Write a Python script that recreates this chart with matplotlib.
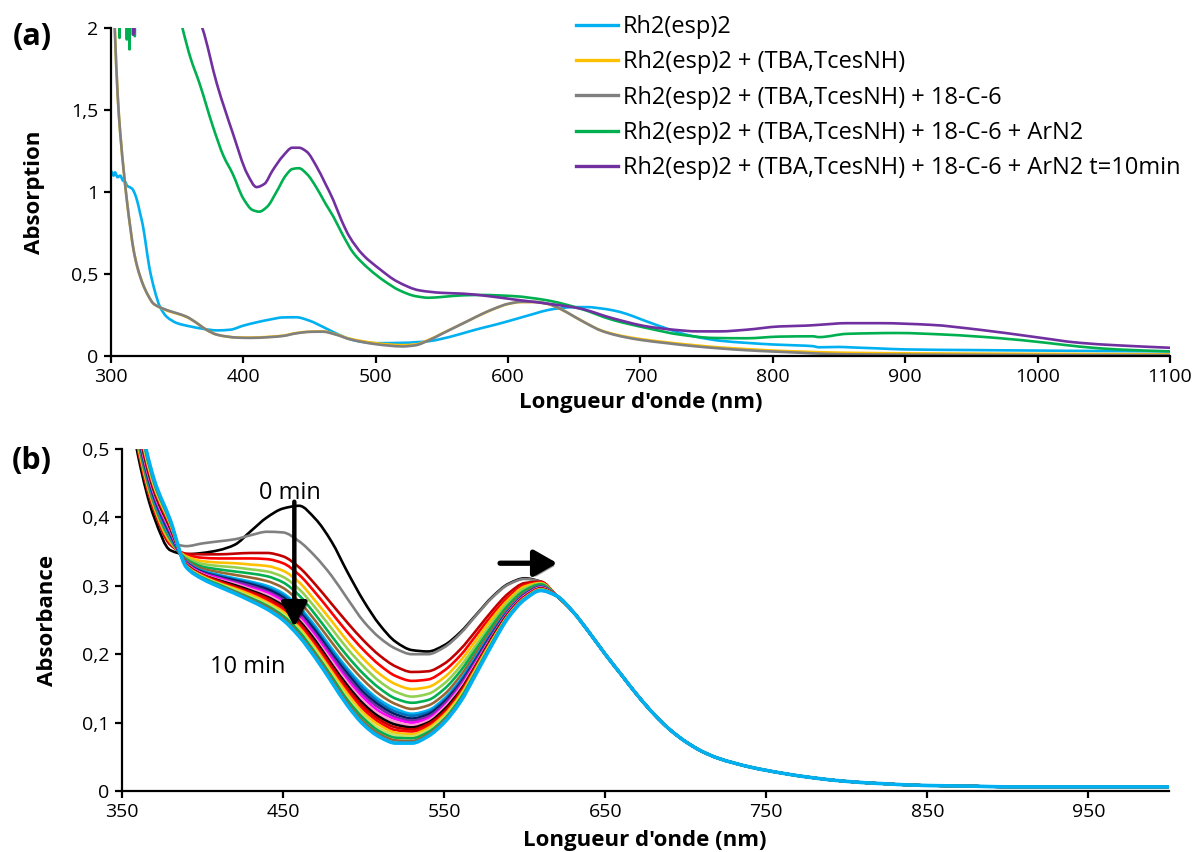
import numpy as np
import matplotlib
matplotlib.use('Agg')
import matplotlib.pyplot as plt
import matplotlib.patheffects as pe
from matplotlib.path import Path
from matplotlib.patches import PathPatch
from matplotlib.lines import Line2D

plt.rcParams['font.family'] = ['Open Sans', 'DejaVu Sans']

# ---------------- panel (a) data ----------------
a_labels = ['Rh2(esp)2',
            'Rh2(esp)2 + (TBA,TcesNH)',
            'Rh2(esp)2 + (TBA,TcesNH) + 18-C-6',
            'Rh2(esp)2 + (TBA,TcesNH) + 18-C-6 + ArN2',
            'Rh2(esp)2 + (TBA,TcesNH) + 18-C-6 + ArN2 t=10min']
a_colors = ['#00B0F0', '#FFC000', '#808080', '#00B050', '#7030A0']

wl_blue = [300, 302, 303, 305, 307, 309, 311, 312, 314, 316, 318, 320, 322, 324, 326, 329, 333, 337, 342, 350,
           360, 370, 380, 390, 400, 410, 420, 430, 440, 450, 460, 470, 480, 490, 500, 520, 540, 550, 560, 570,
           580, 590, 600, 610, 620, 630, 640, 650, 660, 670, 680, 690, 700, 710, 720, 730, 740, 750, 760, 780,
           800, 820, 830, 835, 850, 860, 880, 900, 950, 1000, 1050, 1100]
abs_blue = [1.13, 1.10, 1.12, 1.09, 1.10, 1.07, 1.06, 1.04, 1.03, 1.02, 0.99, 0.94, 0.87, 0.80, 0.70, 0.54, 0.40, 0.30, 0.24, 0.20,
            0.18, 0.165, 0.156, 0.16, 0.185, 0.205, 0.222, 0.235, 0.236, 0.215, 0.178, 0.138, 0.104, 0.086, 0.078, 0.08, 0.09, 0.105, 0.125, 0.148,
            0.17, 0.19, 0.212, 0.235, 0.258, 0.28, 0.292, 0.298, 0.298, 0.29, 0.277, 0.255, 0.225, 0.195, 0.167, 0.14, 0.12, 0.105, 0.093, 0.08,
            0.07, 0.064, 0.06, 0.053, 0.055, 0.052, 0.046, 0.04, 0.036, 0.033, 0.03, 0.028]

wl_gray = [300, 303, 305, 307, 310, 312, 315, 317, 320, 324, 328, 332, 336, 339, 344, 350, 357, 365, 372, 380,
           388, 395, 405, 420, 430, 440, 450, 460, 470, 480, 490, 500, 510, 520, 530, 540, 550, 560, 570, 580,
           590, 600, 610, 620, 630, 640, 650, 660, 670, 680, 690, 700, 720, 740, 760, 780, 800, 820, 840, 860,
           900, 1000, 1100]
abs_yellow = [2.6, 1.97, 1.6, 1.36, 1.1, 0.95, 0.76, 0.65, 0.54, 0.44, 0.37, 0.32, 0.30, 0.288, 0.272, 0.258, 0.238, 0.2, 0.16, 0.13,
              0.118, 0.113, 0.112, 0.117, 0.124, 0.14, 0.148, 0.15, 0.132, 0.106, 0.09, 0.078, 0.07, 0.066, 0.07, 0.098, 0.137, 0.176, 0.215, 0.254,
              0.289, 0.317, 0.329, 0.329, 0.317, 0.285, 0.24, 0.196, 0.157, 0.133, 0.116, 0.103, 0.083, 0.066, 0.052, 0.042, 0.033, 0.027, 0.022, 0.019,
              0.016, 0.013, 0.01]
abs_gray = [2.6, 1.97, 1.6, 1.36, 1.1, 0.95, 0.76, 0.65, 0.54, 0.44, 0.37, 0.32, 0.30, 0.29, 0.275, 0.26, 0.24, 0.2, 0.16, 0.13,
            0.118, 0.112, 0.11, 0.115, 0.122, 0.138, 0.147, 0.148, 0.13, 0.103, 0.085, 0.072, 0.063, 0.058, 0.065, 0.095, 0.135, 0.175, 0.215, 0.255,
            0.29, 0.318, 0.33, 0.33, 0.318, 0.285, 0.24, 0.195, 0.155, 0.13, 0.112, 0.098, 0.078, 0.06, 0.046, 0.035, 0.027, 0.02, 0.013, 0.01,
            0.008, 0.006, 0.005]

wl_green = [300, 306, 306.5, 307, 307.5, 311.5, 312, 312.5, 313.5, 314, 314.5, 317.5, 318, 318.5, 340, 354, 360, 367, 377, 385,
            392, 400, 407, 412, 418, 425, 432, 437, 442, 448, 455, 462, 468, 475, 483, 495, 506, 518, 530, 540,
            550, 566, 580, 604, 629, 654, 679, 705, 730, 755, 780, 805, 830, 835, 856, 894, 931, 969, 1007, 1032,
            1060, 1100]
abs_green = [2.5, 2.5, 1.94, 2.5, 2.5, 2.5, 1.93, 2.5, 2.5, 1.87, 2.5, 2.5, 1.95, 2.5, 2.5, 2.0, 1.82, 1.66, 1.40, 1.22,
             1.11, 0.96, 0.89, 0.88, 0.91, 1.0, 1.1, 1.14, 1.145, 1.11, 1.03, 0.93, 0.85, 0.74, 0.63, 0.53, 0.46, 0.40, 0.365, 0.355,
             0.36, 0.37, 0.372, 0.365, 0.34, 0.29, 0.22, 0.17, 0.13, 0.11, 0.108, 0.118, 0.12, 0.115, 0.135, 0.14, 0.13, 0.11, 0.08, 0.057,
             0.04, 0.028]

wl_purple = [300, 316, 316.5, 317.5, 318, 340, 369, 380, 392, 403, 410, 416, 422, 430, 437, 442, 448, 455, 462, 468,
             474, 480, 490, 503, 516, 533, 550, 566, 585, 604, 629, 654, 679, 705, 725, 743, 760, 780, 805, 825,
             835, 856, 881, 919, 956, 994, 1032, 1060, 1100]
abs_purple = [2.5, 2.5, 1.96, 1.97, 2.5, 2.5, 2.0, 1.66, 1.36, 1.11, 1.03, 1.05, 1.13, 1.22, 1.27, 1.27, 1.245, 1.16, 1.05, 0.95,
              0.83, 0.73, 0.62, 0.53, 0.455, 0.40, 0.385, 0.38, 0.365, 0.345, 0.32, 0.29, 0.23, 0.18, 0.16, 0.15, 0.15, 0.16, 0.18, 0.185,
              0.19, 0.20, 0.20, 0.19, 0.16, 0.12, 0.08, 0.065, 0.05]

# ---------------- panel (b) data ----------------
wl_b = [355, 360, 370, 380, 390, 400, 410, 420, 430, 440, 450, 460, 470, 480, 490, 500,
        510, 520, 530, 540, 550, 560, 570, 580, 590, 600, 610]
wl_b_tail = [620, 630, 640, 650, 660, 670, 680, 690, 700, 710, 720, 740, 760, 780, 800, 820, 850, 880, 900, 950, 1000]
abs_b_tail = [0.285, 0.262, 0.232, 0.2, 0.17, 0.14, 0.113, 0.09, 0.072, 0.058, 0.048, 0.035, 0.026, 0.019, 0.014, 0.011,
              0.008, 0.007, 0.006, 0.006, 0.006]

b_colors = ['#000000', '#808080', '#C00000', '#FF0000', '#FFC000', '#92D050', '#00B050', '#996633',
            '#00B0F0', '#0070C0', '#002060', '#7030A0', '#FF00FF', '#FF99CC', '#000000', '#C00000',
            '#FF0000', '#FFC000', '#C9E265', '#00B050', '#996633', '#00B0F0']

b_spectra = [
    [0.56, 0.49, 0.40, 0.352, 0.346, 0.348, 0.352, 0.36, 0.38, 0.40, 0.413, 0.417, 0.398, 0.365, 0.32, 0.278, 0.243, 0.218, 0.206, 0.204, 0.213, 0.232, 0.258, 0.284, 0.303, 0.311, 0.306],
    [0.57, 0.50, 0.41, 0.365, 0.358, 0.362, 0.365, 0.368, 0.374, 0.379, 0.378, 0.365, 0.343, 0.315, 0.281, 0.248, 0.224, 0.208, 0.200, 0.200, 0.210, 0.230, 0.257, 0.283, 0.302, 0.310, 0.306],
    [0.57, 0.50, 0.41, 0.36, 0.347, 0.346, 0.346, 0.347, 0.348, 0.348, 0.343, 0.327, 0.302, 0.274, 0.246, 0.220, 0.198, 0.182, 0.174, 0.175, 0.186, 0.207, 0.235, 0.264, 0.289, 0.304, 0.306],
    [0.57, 0.50, 0.412, 0.362, 0.345, 0.341, 0.340, 0.340, 0.340, 0.339, 0.333, 0.316, 0.290, 0.261, 0.232, 0.206, 0.184, 0.168, 0.161, 0.163, 0.176, 0.198, 0.228, 0.258, 0.284, 0.301, 0.305],
    [0.58, 0.505, 0.415, 0.364, 0.343, 0.336, 0.334, 0.333, 0.331, 0.329, 0.322, 0.305, 0.278, 0.249, 0.219, 0.193, 0.171, 0.156, 0.149, 0.152, 0.166, 0.190, 0.221, 0.253, 0.280, 0.299, 0.304],
    [0.58, 0.51, 0.418, 0.366, 0.341, 0.332, 0.329, 0.327, 0.324, 0.321, 0.313, 0.295, 0.268, 0.238, 0.208, 0.182, 0.160, 0.145, 0.138, 0.142, 0.157, 0.182, 0.214, 0.247, 0.276, 0.296, 0.303],
    [0.585, 0.512, 0.42, 0.368, 0.339, 0.328, 0.324, 0.321, 0.318, 0.314, 0.305, 0.286, 0.258, 0.227, 0.197, 0.171, 0.150, 0.135, 0.129, 0.133, 0.149, 0.175, 0.208, 0.242, 0.272, 0.293, 0.302],
    [0.59, 0.515, 0.422, 0.37, 0.337, 0.325, 0.320, 0.316, 0.312, 0.307, 0.297, 0.277, 0.249, 0.218, 0.188, 0.162, 0.141, 0.127, 0.120, 0.125, 0.141, 0.168, 0.202, 0.237, 0.268, 0.290, 0.300],
    [0.59, 0.518, 0.425, 0.372, 0.335, 0.322, 0.316, 0.311, 0.306, 0.300, 0.289, 0.269, 0.241, 0.209, 0.179, 0.153, 0.133, 0.120, 0.113, 0.118, 0.135, 0.162, 0.197, 0.233, 0.265, 0.288, 0.299],
    [0.595, 0.52, 0.427, 0.374, 0.334, 0.321, 0.315, 0.309, 0.304, 0.297, 0.286, 0.266, 0.237, 0.205, 0.175, 0.149, 0.129, 0.116, 0.110, 0.115, 0.132, 0.160, 0.195, 0.232, 0.264, 0.287, 0.299],
    [0.60, 0.523, 0.43, 0.376, 0.334, 0.320, 0.313, 0.308, 0.302, 0.295, 0.283, 0.262, 0.234, 0.201, 0.171, 0.144, 0.125, 0.112, 0.106, 0.112, 0.130, 0.157, 0.193, 0.230, 0.263, 0.287, 0.298],
    [0.60, 0.525, 0.432, 0.378, 0.333, 0.319, 0.312, 0.306, 0.300, 0.292, 0.280, 0.259, 0.230, 0.198, 0.167, 0.140, 0.121, 0.108, 0.103, 0.109, 0.127, 0.155, 0.191, 0.229, 0.262, 0.286, 0.298],
    [0.605, 0.528, 0.434, 0.38, 0.333, 0.318, 0.311, 0.304, 0.297, 0.290, 0.277, 0.256, 0.227, 0.194, 0.162, 0.136, 0.116, 0.105, 0.100, 0.106, 0.124, 0.152, 0.189, 0.227, 0.262, 0.286, 0.297],
    [0.61, 0.53, 0.436, 0.382, 0.332, 0.317, 0.309, 0.303, 0.295, 0.287, 0.274, 0.252, 0.223, 0.190, 0.158, 0.131, 0.112, 0.101, 0.096, 0.103, 0.122, 0.150, 0.187, 0.226, 0.261, 0.285, 0.297],
    [0.61, 0.533, 0.438, 0.384, 0.331, 0.316, 0.308, 0.301, 0.293, 0.284, 0.271, 0.249, 0.220, 0.186, 0.154, 0.127, 0.108, 0.097, 0.093, 0.100, 0.119, 0.147, 0.185, 0.225, 0.260, 0.284, 0.296],
    [0.615, 0.536, 0.44, 0.386, 0.331, 0.316, 0.307, 0.299, 0.291, 0.282, 0.268, 0.246, 0.216, 0.183, 0.150, 0.123, 0.104, 0.093, 0.090, 0.098, 0.116, 0.145, 0.184, 0.223, 0.259, 0.284, 0.296],
    [0.62, 0.54, 0.443, 0.388, 0.330, 0.315, 0.306, 0.297, 0.289, 0.279, 0.265, 0.243, 0.213, 0.179, 0.146, 0.119, 0.100, 0.089, 0.087, 0.095, 0.113, 0.142, 0.182, 0.222, 0.258, 0.283, 0.295],
    [0.62, 0.543, 0.445, 0.39, 0.329, 0.314, 0.304, 0.296, 0.287, 0.276, 0.262, 0.239, 0.209, 0.175, 0.142, 0.114, 0.096, 0.085, 0.083, 0.092, 0.111, 0.140, 0.180, 0.221, 0.257, 0.282, 0.295],
    [0.625, 0.546, 0.447, 0.392, 0.329, 0.313, 0.303, 0.294, 0.284, 0.274, 0.259, 0.236, 0.206, 0.171, 0.137, 0.110, 0.091, 0.082, 0.080, 0.089, 0.108, 0.137, 0.178, 0.219, 0.257, 0.282, 0.294],
    [0.63, 0.55, 0.45, 0.393, 0.328, 0.312, 0.302, 0.292, 0.282, 0.271, 0.256, 0.233, 0.202, 0.168, 0.133, 0.106, 0.087, 0.078, 0.077, 0.086, 0.105, 0.135, 0.176, 0.218, 0.256, 0.281, 0.294],
    [0.63, 0.553, 0.452, 0.395, 0.328, 0.311, 0.300, 0.291, 0.280, 0.269, 0.253, 0.229, 0.199, 0.164, 0.129, 0.101, 0.083, 0.074, 0.073, 0.083, 0.103, 0.132, 0.174, 0.216, 0.255, 0.281, 0.293],
    [0.635, 0.556, 0.455, 0.396, 0.327, 0.310, 0.299, 0.289, 0.278, 0.266, 0.250, 0.226, 0.195, 0.160, 0.125, 0.097, 0.079, 0.070, 0.070, 0.080, 0.100, 0.130, 0.172, 0.215, 0.254, 0.280, 0.293],
]

a_xticks = [300, 400, 500, 600, 700, 800, 900, 1000, 1100]
a_yticks = [0, 0.5, 1, 1.5, 2]
a_ytick_labels = ['0', '0,5', '1', '1,5', '2']
b_xticks = [350, 450, 550, 650, 750, 850, 950]
b_yticks = [0, 0.1, 0.2, 0.3, 0.4, 0.5]
b_ytick_labels = ['0', '0,1', '0,2', '0,3', '0,4', '0,5']


def smooth_line(ax, x, y, color, lw):
    # "smoothed line" style: monotone cubic Bezier segments through the read points
    x = np.asarray(x, float)
    y = np.asarray(y, float)
    h = np.diff(x)
    d = np.diff(y) / h
    m = np.zeros_like(y)
    m[0], m[-1] = d[0], d[-1]
    for i in range(1, len(x) - 1):
        if d[i - 1] * d[i] > 0:
            w1 = 2 * h[i] + h[i - 1]
            w2 = h[i] + 2 * h[i - 1]
            m[i] = (w1 + w2) / (w1 / d[i - 1] + w2 / d[i])
    verts = [(x[0], y[0])]
    codes = [Path.MOVETO]
    for i in range(len(x) - 1):
        verts += [(x[i] + h[i] / 3, y[i] + m[i] * h[i] / 3),
                  (x[i + 1] - h[i] / 3, y[i + 1] - m[i + 1] * h[i] / 3),
                  (x[i + 1], y[i + 1])]
        codes += [Path.CURVE4] * 3
    ax.add_patch(PathPatch(Path(verts, codes), fill=False, edgecolor=color, lw=lw,
                           joinstyle='round', capstyle='round'))


fig = plt.figure(figsize=(11.97, 8.52), dpi=100)
ax1 = fig.add_axes([0.0927, 0.5822, 0.8847, 0.3849])
ax2 = fig.add_axes([0.1019, 0.0716, 0.8747, 0.4014])

# panel (a)
a_data = [(wl_blue, abs_blue), (wl_gray, abs_yellow), (wl_gray, abs_gray),
          (wl_green, abs_green), (wl_purple, abs_purple)]
handles = []
for (x, y), c, lab in zip(a_data, a_colors, a_labels):
    smooth_line(ax1, x, y, c, 1.9)
    handles.append(Line2D([], [], color=c, lw=2.4, label=lab))
ax1.set_xlim(300, 1100)
ax1.set_ylim(0, 2)
ax1.set_xticks(a_xticks)
ax1.set_yticks(a_yticks)
ax1.set_yticklabels(a_ytick_labels)

# panel (b)
for k, (row, c) in enumerate(zip(b_spectra, b_colors)):
    lw = 2.6 if k == len(b_spectra) - 1 else 1.9
    smooth_line(ax2, wl_b + wl_b_tail, row + abs_b_tail, c, lw)
ax2.set_xlim(350, 1000)
ax2.set_ylim(0, 0.5)
ax2.set_xticks(b_xticks)
ax2.set_yticks(b_yticks)
ax2.set_yticklabels(b_ytick_labels)

for ax in (ax1, ax2):
    for s in ('top', 'right'):
        ax.spines[s].set_visible(False)
    for s in ('left', 'bottom'):
        ax.spines[s].set_linewidth(1.6)
    ax.tick_params(direction='out', length=5, width=1.6, labelsize=14, pad=4)

# arrows in (b)
shadow = [pe.SimplePatchShadow(offset=(2, -2), alpha=0.35), pe.Normal()]
ax2.annotate('', xy=(457, 0.236), xytext=(457, 0.427),
             arrowprops=dict(arrowstyle='-|>,head_width=0.4,head_length=0.75', lw=3.2,
                             color='black', mutation_scale=20, path_effects=shadow))
ax2.annotate('', xy=(622, 0.333), xytext=(583, 0.333),
             arrowprops=dict(arrowstyle='-|>,head_width=0.4,head_length=0.7', lw=3.8,
                             color='black', mutation_scale=20, path_effects=shadow))
ax2.text(454, 0.436, '0 min', fontsize=17, ha='center', va='center')
ax2.text(428, 0.181, '10 min', fontsize=17, ha='center', va='center')

# labels
fig.text(0.0292, 0.7746, 'Absorption', rotation=90, fontsize=16, fontweight='bold', ha='center', va='center')
fig.text(0.0393, 0.2723, 'Absorbance', rotation=90, fontsize=16, fontweight='bold', ha='center', va='center')
fig.text(0.535, 0.521, "Longueur d'onde (nm)", fontsize=16, fontweight='bold', ha='center', va='baseline')
fig.text(0.539, 0.001, "Longueur d'onde (nm)", fontsize=16, fontweight='bold', ha='center', va='bottom')
fig.text(0.0267, 0.9566, '(a)', fontsize=22, fontweight='bold', ha='center', va='center')
fig.text(0.0267, 0.459, '(b)', fontsize=22, fontweight='bold', ha='center', va='center')

fig.legend(handles=handles, loc='upper left', bbox_to_anchor=(576 / 1197, (852 - 15) / 852),
           frameon=False, fontsize=17, handlelength=1.78, handletextpad=0.2,
           labelspacing=0.48, borderpad=0, borderaxespad=0)

fig.savefig('out.png', dpi=100)
